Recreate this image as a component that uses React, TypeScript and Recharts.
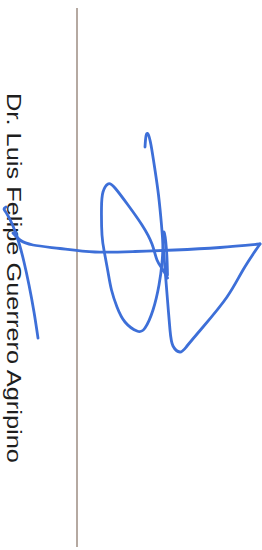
import React from "react";
import { LineChart, Line, XAxis, YAxis } from "recharts";

// signer name printed sideways
const nameText = "Dr. Luis Felipe Guerrero Agripino";

// vertical rule
const rule = [
  { x: 77, y: 8 },
  { x: 77, y: 547 },
];

// signature strokes
const tail = [
  { x: 38, y: 338 },
  { x: 34, y: 312 },
  { x: 29, y: 285 },
  { x: 24, y: 262 },
  { x: 19, y: 243 },
  { x: 13, y: 226 },
  { x: 7, y: 214 },
  { x: 4, y: 209 },
  { x: 6, y: 207 },
];

const crossBar = [
  { x: 13, y: 233 },
  { x: 20, y: 240 },
  { x: 33, y: 245 },
  { x: 60, y: 248.5 },
  { x: 95, y: 252 },
  { x: 135, y: 251.5 },
  { x: 175, y: 250 },
  { x: 220, y: 247.5 },
  { x: 260, y: 244 },
];

const downStroke = [
  { x: 260, y: 244 },
  { x: 243, y: 270 },
  { x: 227, y: 297 },
  { x: 203, y: 327 },
  { x: 187, y: 346 },
  { x: 180, y: 352 },
  { x: 173, y: 346 },
  { x: 170, y: 330 },
  { x: 167.5, y: 300 },
  { x: 165.5, y: 275 },
  { x: 163.5, y: 250 },
  { x: 161.5, y: 225 },
  { x: 158.5, y: 195 },
  { x: 155, y: 170 },
  { x: 151, y: 145 },
  { x: 148, y: 134 },
  { x: 146, y: 136 },
  { x: 145, y: 147 },
];

const bigLoop = [
  { x: 167.5, y: 278 },
  { x: 163, y: 270 },
  { x: 157, y: 260 },
  { x: 152, y: 244 },
  { x: 142, y: 225 },
  { x: 128, y: 205 },
  { x: 115, y: 188 },
  { x: 108, y: 184 },
  { x: 103, y: 192 },
  { x: 101.5, y: 208 },
  { x: 102, y: 235 },
  { x: 104.5, y: 253 },
  { x: 108, y: 272 },
  { x: 111.5, y: 290 },
  { x: 117, y: 307 },
  { x: 125, y: 322 },
  { x: 137, y: 331 },
  { x: 145, y: 328 },
  { x: 153, y: 310 },
  { x: 159, y: 285 },
  { x: 162, y: 263 },
  { x: 163, y: 245 },
  { x: 164, y: 232 },
  { x: 166.5, y: 250 },
  { x: 167.5, y: 275 },
];

const strokes = [tail, crossBar, downStroke, bigLoop];

export default function App() {
  return (
    <div style={{ position: "fixed", left: 0, top: 0, background: "#fff" }}>
      <LineChart
        width={262}
        height={550}
        margin={{ top: 0, right: 0, bottom: 0, left: 0 }}
      >
        <XAxis type="number" dataKey="x" domain={[0, 262]} hide />
        <YAxis type="number" dataKey="y" domain={[0, 550]} reversed hide />
        <Line
          data={rule}
          dataKey="y"
          type="linear"
          stroke="#b5a9a1"
          strokeWidth={2}
          dot={false}
          activeDot={false}
          isAnimationActive={false}
        />
        <text
          x={0}
          y={0}
          transform="translate(6.5,93) rotate(90)"
          fontFamily="'Liberation Sans', Arial, sans-serif"
          fontSize={21}
          textLength={370}
          lengthAdjust="spacingAndGlyphs"
          fill="#1e1e1e"
        >
          {nameText}
        </text>
        {strokes.map((s, i) => (
          <Line
            key={i}
            data={s}
            dataKey="y"
            type="natural"
            stroke="#3d6fd8"
            strokeWidth={2.8}
            strokeLinecap="round"
            strokeLinejoin="round"
            dot={false}
            activeDot={false}
            isAnimationActive={false}
          />
        ))}
      </LineChart>
    </div>
  );
}
